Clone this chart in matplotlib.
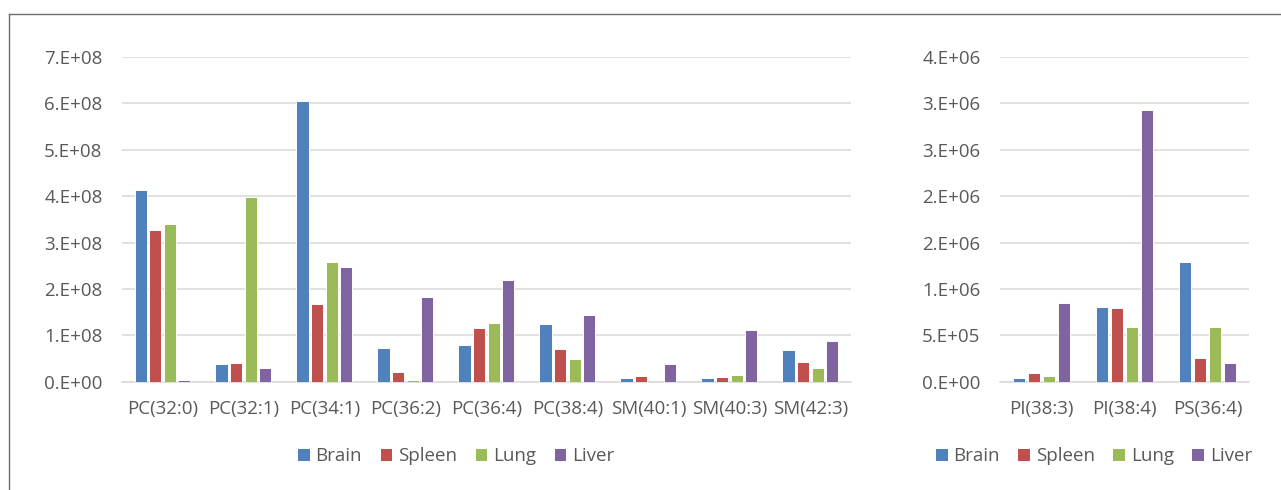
import matplotlib.pyplot as plt
import numpy as np
from matplotlib.lines import Line2D
from matplotlib.patches import Patch

plt.rcParams["font.family"] = ["Open Sans", "DejaVu Sans"]

tissues = ["Brain", "Spleen", "Lung", "Liver"]
colors = ["#4F81BD", "#C0504D", "#9BBB59", "#8064A2"]

# left panel: PC / SM species
left_cats = ["PC(32:0)", "PC(32:1)", "PC(34:1)", "PC(36:2)", "PC(36:4)",
             "PC(38:4)", "SM(40:1)", "SM(40:3)", "SM(42:3)"]
left_brain = [4.13e8, 0.38e8, 6.05e8, 0.72e8, 0.80e8, 1.25e8, 0.08e8, 0.07e8, 0.68e8]
left_spleen = [3.28e8, 0.40e8, 1.67e8, 0.22e8, 1.15e8, 0.70e8, 0.115e8, 0.11e8, 0.43e8]
left_lung = [3.41e8, 3.98e8, 2.59e8, 0.03e8, 1.26e8, 0.48e8, 0.0, 0.14e8, 0.295e8]
left_liver = [0.04e8, 0.30e8, 2.48e8, 1.82e8, 2.19e8, 1.43e8, 0.38e8, 1.11e8, 0.88e8]
left_ticks = [0, 1e8, 2e8, 3e8, 4e8, 5e8, 6e8, 7e8]
left_ticklabels = ["0.E+00", "1.E+08", "2.E+08", "3.E+08", "4.E+08",
                   "5.E+08", "6.E+08", "7.E+08"]

# right panel: PI / PS species
right_cats = ["PI(38:3)", "PI(38:4)", "PS(36:4)"]
right_brain = [4.0e4, 8.08e5, 1.29e6]
right_spleen = [9.7e4, 7.94e5, 2.52e5]
right_lung = [6.1e4, 5.92e5, 5.92e5]
right_liver = [8.5e5, 2.93e6, 1.98e5]
right_ticks = [0, 5e5, 1e6, 1.5e6, 2e6, 2.5e6, 3e6, 3.5e6]
right_ticklabels = ["0.E+00", "5.E+05", "1.E+06", "2.E+06", "2.E+06",
                    "3.E+06", "3.E+06", "4.E+06"]

text_color = "#595959"
grid_color = "#D9D9D9"
fsize = 13.5


def draw_panel(ax, cats, series, ticks, ticklabels):
    x = np.arange(len(cats))
    slot = 0.18
    for i, (vals, c) in enumerate(zip(series, colors)):
        off = (i - 1.5) * slot
        ax.bar(x + off, vals, width=0.15, color=c, edgecolor="white",
               linewidth=0.7, zorder=3)
    ax.set_xlim(-0.5, len(cats) - 0.5)
    ax.set_ylim(0, ticks[-1])
    ax.set_yticks(ticks)
    ax.set_yticklabels(ticklabels)
    ax.set_xticks(x)
    ax.set_xticklabels(cats)
    ax.yaxis.grid(True, color=grid_color, linewidth=1.1, zorder=0)
    ax.set_axisbelow(True)
    for s in ["top", "right", "left"]:
        ax.spines[s].set_visible(False)
    ax.spines["bottom"].set_color(grid_color)
    ax.spines["bottom"].set_linewidth(1.1)
    ax.tick_params(axis="y", length=0, pad=14, labelsize=fsize, labelcolor=text_color)
    ax.tick_params(axis="x", length=0, pad=13, labelsize=fsize, labelcolor=text_color)


fig = plt.figure(figsize=(12.81, 4.90), dpi=100)

ax1 = fig.add_axes([0.0952, 0.221, 0.569, 0.6627])
draw_panel(ax1, left_cats, [left_brain, left_spleen, left_lung, left_liver],
           left_ticks, left_ticklabels)

ax2 = fig.add_axes([0.7806, 0.221, 0.1944, 0.6627])
draw_panel(ax2, right_cats, [right_brain, right_spleen, right_lung, right_liver],
           right_ticks, right_ticklabels)

handles = [Patch(facecolor=c, edgecolor="none") for c in colors]
for cx in [0.356, 0.854]:
    leg = fig.legend(handles, tissues, loc="center", bbox_to_anchor=(cx, 0.069),
                     ncol=4, frameon=False, fontsize=fsize,
                     handlelength=0.62, handleheight=0.62, handletextpad=0.3,
                     columnspacing=1.0, borderaxespad=0)
    for t in leg.get_texts():
        t.set_color(text_color)

# thin outer frame (top and left edges only are visible)
fig.add_artist(Line2D([9 / 1281, 1.0], [1 - 14 / 490, 1 - 14 / 490],
                      transform=fig.transFigure, color="#6E6E6E", linewidth=1.0))
fig.add_artist(Line2D([9 / 1281, 9 / 1281], [0, 1 - 14 / 490],
                      transform=fig.transFigure, color="#6E6E6E", linewidth=1.0))

fig.savefig("out.png", dpi=100)
